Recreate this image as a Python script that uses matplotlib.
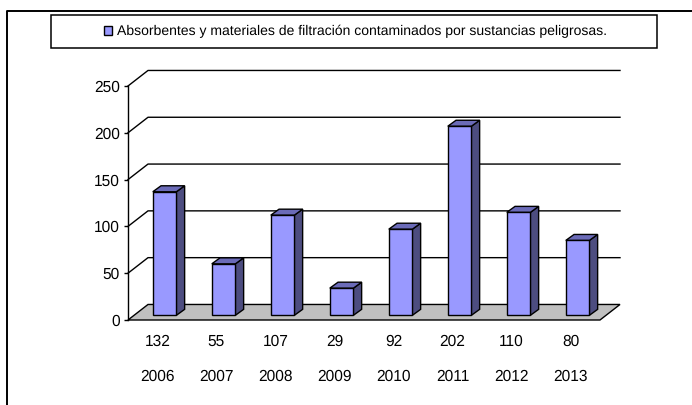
import matplotlib
matplotlib.use("Agg")
import matplotlib.pyplot as plt
from matplotlib.lines import Line2D
from matplotlib.patches import Patch, Polygon, Rectangle

plt.rcParams['font.family'] = ['Liberation Sans', 'DejaVu Sans']
plt.rcParams['text.hinting'] = 'no_hinting'

years = ['2006', '2007', '2008', '2009', '2010', '2011', '2012', '2013']
values = [132, 55, 107, 29, 92, 202, 110, 80]
y_ticks = [0, 50, 100, 150, 200, 250]
legend_label = 'Absorbentes y materiales de filtración contaminados por sustancias peligrosas.'

# colours
face = '#9999FF'
side = '#4D4D80'
top = '#6B6BB8'
floor = '#C0C0C0'

W, H = 692, 405

# fake 3D depth in data units
depth_x = 20 / 59
depth_y = 16.6
bar_w = 0.40
bar_dx = 0.12
bar_dy = 5.0
bar_depth_x = 0.14
bar_depth_y = 6.4

fig = plt.figure(figsize=(W / 100, H / 100), dpi=100)
# front plane of the chart: x 128..600 px, y 86..320 px
ax = fig.add_axes([128 / W, 1 - 320 / H, 472 / W, 234 / H])
ax.set_xlim(-0.5, 7.5)
ax.set_ylim(0, 250)
ax.patch.set_visible(False)

x = list(range(len(years)))
lw = 1.0

# floor
ax.add_patch(Polygon([(-0.5, 0), (7.5, 0), (7.5 + depth_x, depth_y), (-0.5 + depth_x, depth_y)],
                     closed=True, fc=floor, ec='black', lw=lw, clip_on=False, zorder=1))

# gridlines with the slanted bit on the side wall
for v in y_ticks[1:]:
    ax.plot([-0.5, -0.5 + depth_x, 7.5 + depth_x], [v, v + depth_y, v + depth_y],
            color='black', lw=lw, clip_on=False, zorder=1)

# bars sit a little way back on the floor
for xi, v in zip(x, values):
    left = xi - bar_w / 2 + bar_dx
    right = left + bar_w
    t = v + bar_dy
    ax.add_patch(Polygon([(right, bar_dy), (right + bar_depth_x, bar_dy + bar_depth_y),
                          (right + bar_depth_x, t + bar_depth_y), (right, t)],
                         closed=True, fc=side, ec='black', lw=lw, clip_on=False, zorder=3))
    ax.add_patch(Polygon([(left, t), (right, t), (right + bar_depth_x, t + bar_depth_y),
                          (left + bar_depth_x, t + bar_depth_y)],
                         closed=True, fc=top, ec='black', lw=lw, clip_on=False, zorder=3))
    ax.bar(left, v, width=bar_w, bottom=bar_dy, align='edge', color=face,
           edgecolor='black', linewidth=lw, clip_on=False, zorder=4)

for s in ['top', 'right', 'bottom']:
    ax.spines[s].set_visible(False)
ax.spines['left'].set_linewidth(lw)
ax.spines['left'].set_zorder(5)

ax.set_yticks(y_ticks)
ax.tick_params(axis='y', length=3, width=lw, labelsize=11.2, pad=3)

# two rows of category labels under the floor
ax.set_xticks(x)
ax.set_xticklabels([f'{v}\n\n{y}' for v, y in zip(values, years)], fontsize=11.2, linespacing=1.24)
ax.tick_params(axis='x', length=0, pad=10)

# outer frame, only top and left are in the picture
fig.add_artist(Line2D([7 / W, 7 / W, 1], [0, 1 - 11 / H, 1 - 11 / H], color='black', lw=1.4))

# legend box
fig.add_artist(Rectangle((50.5 / W, 1 - 48 / H), 606 / W, 33 / H, transform=fig.transFigure,
                         fc='white', ec='black', lw=1.1))
leg = fig.legend(handles=[Patch(fc=face, ec='black', lw=lw, label=legend_label)],
                 loc='center', bbox_to_anchor=(355.5 / W, 1 - 31.5 / H), frameon=False,
                 fontsize=10.1, handlelength=0.55, handleheight=0.6, handletextpad=0.36,
                 borderpad=0, labelspacing=0)

fig.savefig('out.png', dpi=100)
